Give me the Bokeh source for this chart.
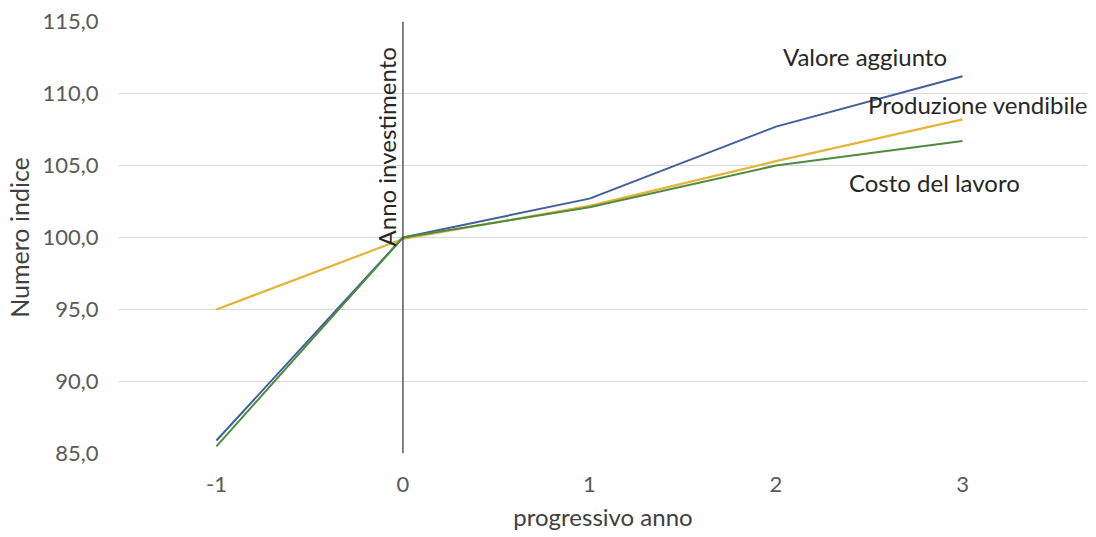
from bokeh.plotting import figure
from bokeh.models import Span, Label, FixedTicker, Range1d, CustomJSTickFormatter
from bokeh.embed import file_html
from bokeh.resources import INLINE

anni = [-1, 0, 1, 2, 3]
valore_aggiunto = [85.9, 100.0, 102.7, 107.7, 111.2]
produzione_vendibile = [95.0, 99.9, 102.2, 105.3, 108.2]
costo_lavoro = [85.5, 100.0, 102.1, 105.0, 106.7]
anno_investimento = 0
y_ticks = [85, 90, 95, 100, 105, 110, 115]

FONT = "Lato"
TXT = "#404040"
TICK = "#595959"

p = figure(width=1096, height=537, output_backend="svg", toolbar_location=None,
           x_range=Range1d(-1.525, 3.67), y_range=Range1d(85, 115),
           min_border_left=118, min_border_right=9, min_border_top=21, min_border_bottom=84)
p.outline_line_color = None
p.background_fill_color = "white"
p.border_fill_color = "white"

p.line(anni, produzione_vendibile, line_color="#E2B437", line_width=2.2)
p.line(anni, valore_aggiunto, line_color="#41609A", line_width=2.0)
p.line(anni, costo_lavoro, line_color="#4D8B3F", line_width=2.0)

p.add_layout(Span(location=anno_investimento, dimension="height", line_color="#404040", line_width=1.3))

for ax in (p.xaxis[0], p.yaxis[0]):
    ax.axis_line_color = None
    ax.major_tick_line_color = None
    ax.minor_tick_line_color = None
    ax.major_tick_out = 0
    ax.major_tick_in = 0
    ax.major_label_text_font = FONT
    ax.major_label_text_font_size = "22px"
    ax.major_label_text_color = TICK
    ax.axis_label_text_font = FONT
    ax.axis_label_text_font_style = "normal"
    ax.axis_label_text_color = TXT

p.xaxis.ticker = FixedTicker(ticks=anni)
p.xaxis.formatter = CustomJSTickFormatter(code="return tick.toString();")
p.xaxis.major_label_standoff = 23
p.xaxis.axis_label = "progressivo anno"
p.xaxis.axis_label_text_font_size = "24px"
p.xaxis.axis_label_standoff = 7

p.yaxis.ticker = FixedTicker(ticks=y_ticks)
p.yaxis.formatter = CustomJSTickFormatter(code="return tick.toFixed(1).replace('.', ',');")
p.yaxis.major_label_standoff = 20
p.yaxis.axis_label = "Numero indice"
p.yaxis.axis_label_text_font_size = "25px"
p.yaxis.axis_label_standoff = 5

p.xgrid.grid_line_color = None
p.ygrid.grid_line_color = "#D9D9D9"
p.ygrid.grid_line_width = 1

LBL = dict(text_font=FONT, text_font_size="24px", text_color="#262626")
p.add_layout(Label(x=anno_investimento - 0.086, y=106.3, text="Anno investimento", angle=90, angle_units="deg",
                   text_align="center", text_baseline="alphabetic", **LBL))
p.add_layout(Label(x=2.037, y=112.57, text="Valore aggiunto", text_align="left", text_baseline="middle", **LBL))
p.add_layout(Label(x=2.493, y=109.24, text="Produzione vendibile", text_align="left", text_baseline="middle", **LBL))
p.add_layout(Label(x=2.391, y=103.82, text="Costo del lavoro", text_align="left", text_baseline="middle", **LBL))

open("out.html", "w").write(file_html(p, INLINE))
